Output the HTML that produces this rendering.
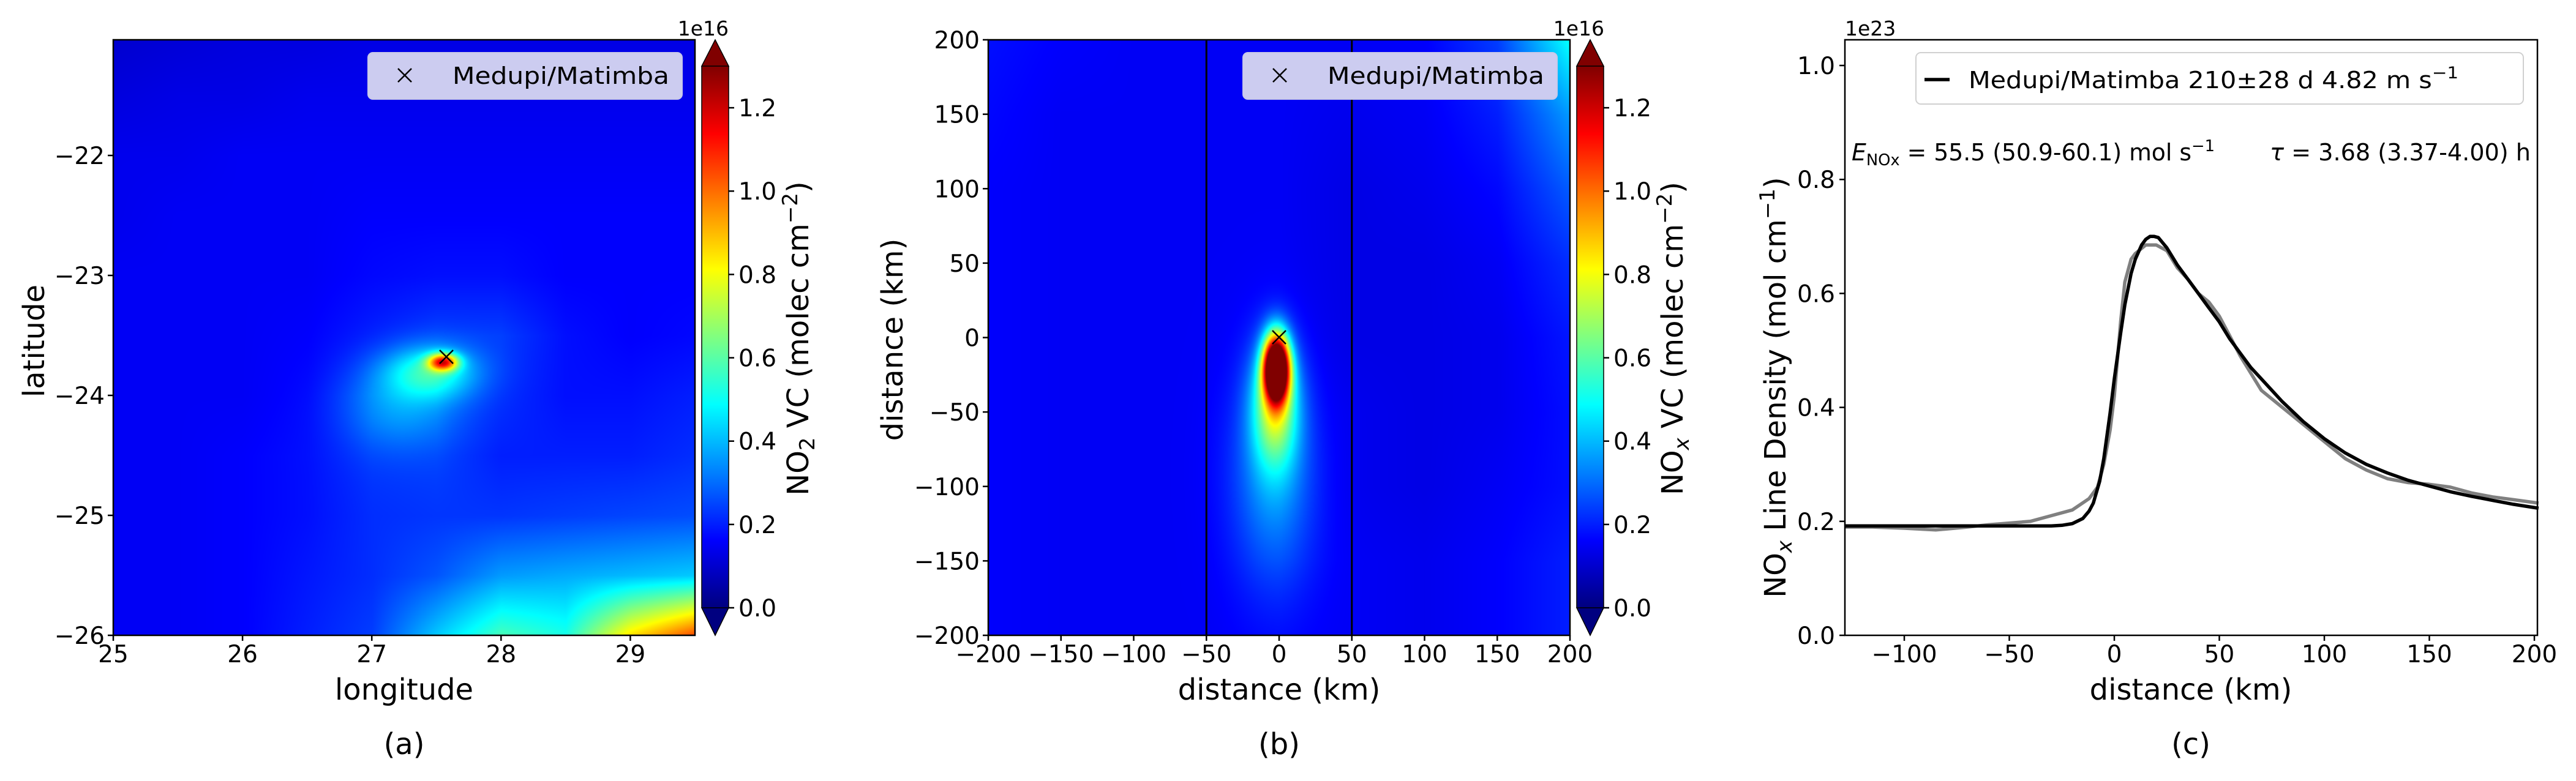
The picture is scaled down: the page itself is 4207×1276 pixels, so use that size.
<!DOCTYPE html>
<html><head><meta charset="utf-8">
<style>
html,body{margin:0;padding:0;background:#fff;}
#wrap{position:relative;width:4207px;height:1276px;overflow:hidden;font-family:"DejaVu Sans","Liberation Sans",sans-serif;}
canvas{position:absolute;}
svg{position:absolute;left:0;top:0;}
text{font-family:"DejaVu Sans","Liberation Sans",sans-serif;fill:#000;}
</style></head>
<body>
<div id="wrap">
<canvas id="ca" width="950" height="973" style="left:185px;top:65px"></canvas>
<canvas id="cb" width="950" height="973" style="left:1614px;top:65px"></canvas>
<svg id="s" width="4207" height="1276" viewBox="0 0 4207 1276">
<defs>
<linearGradient id="jetg" x1="0" y1="1" x2="0" y2="0"></linearGradient>
</defs>
<g id="g"></g>
</svg>
</div>
<script>
// ---------- Panel (a) data ----------
const aLon = [25,25.5,26,26.5,27,27.5,28,28.5,29,29.5];
const aLat = [-21,-21.5,-22,-22.5,-23,-23.5,-24,-24.5,-25,-25.5,-26];
const aGrid = [
[.10,.11,.12,.12,.13,.13,.13,.13,.13,.13],
[.12,.13,.13,.14,.14,.14,.14,.14,.14,.14],
[.14,.14,.15,.15,.15,.15,.15,.15,.15,.15],
[.14,.15,.15,.15,.16,.16,.16,.16,.16,.16],
[.15,.15,.15,.15,.17,.18,.18,.16,.16,.16],
[.15,.15,.15,.16,.20,.24,.24,.18,.16,.17],
[.15,.15,.15,.17,.24,.27,.22,.18,.18,.20],
[.15,.15,.16,.18,.23,.24,.20,.20,.20,.22],
[.15,.15,.16,.18,.22,.23,.23,.24,.25,.26],
[.15,.15,.16,.19,.22,.27,.36,.38,.40,.42],
[.15,.15,.16,.20,.24,.42,.58,.52,.85,1.05]];
const aSources = [[27.55,-23.72,0.72,0.08,0.05],[27.45,-23.8,0.28,0.25,0.15],[27.2,-24.1,0.12,0.3,0.25]];
const aXTicks = [25,26,27,28,29];
const aYTicks = [-22,-23,-24,-25,-26];
// ---------- Panel (b) data ----------
const bX = [-200,-150,-100,-50,0,50,100,150,200];
const bY = [200,150,100,50,0,-50,-100,-150,-200];
const bGrid = [
[.18,.16,.15,.15,.15,.15,.16,.24,.50],
[.17,.15,.15,.15,.15,.14,.15,.20,.36],
[.16,.15,.15,.15,.15,.13,.14,.17,.28],
[.16,.15,.15,.15,.15,.13,.13,.15,.22],
[.16,.15,.15,.15,.15,.13,.13,.14,.19],
[.16,.15,.15,.15,.15,.14,.13,.14,.18],
[.16,.15,.15,.15,.16,.14,.13,.15,.18],
[.16,.15,.15,.15,.17,.15,.14,.16,.20],
[.16,.15,.15,.15,.16,.15,.14,.16,.20]];
const bSources = [[-2,-20,1.6,6,15],[-3,-45,0.5,11,28],[-4,-90,0.2,20,50]];
const bTicks = [-200,-150,-100,-50,0,50,100,150,200];
const bVLines = [-50,50];
const cbTicks = [0.0,0.2,0.4,0.6,0.8,1.0,1.2];
// ---------- Panel (c) data ----------
const obsX = [-128,-115,-100,-85,-70,-60,-50,-40,-30,-20,-12,-8,-5,-2,0,3,5,8,10,15,20,25,30,35,40,45,50,55,60,65,70,80,90,100,110,120,130,140,150,160,170,180,190,202];
const obsY = [0.19,0.19,0.188,0.185,0.19,0.194,0.197,0.20,0.21,0.22,0.24,0.26,0.30,0.36,0.42,0.55,0.62,0.66,0.67,0.685,0.685,0.675,0.645,0.625,0.60,0.585,0.56,0.525,0.49,0.46,0.43,0.40,0.37,0.34,0.31,0.29,0.275,0.268,0.265,0.26,0.25,0.243,0.238,0.232];
const fitX = [-128,-30,-25,-20,-15,-12,-10,-7,-5,-2,0,3,5,8,10,13,15,17,19,21,25,30,35,40,45,50,55,60,65,70,80,90,100,110,120,130,140,150,160,170,180,190,202];
const fitY = [0.192,0.192,0.193,0.196,0.205,0.218,0.232,0.27,0.31,0.39,0.45,0.53,0.58,0.635,0.66,0.685,0.695,0.70,0.70,0.698,0.68,0.65,0.625,0.60,0.575,0.55,0.52,0.495,0.47,0.45,0.41,0.375,0.345,0.32,0.30,0.285,0.272,0.262,0.252,0.244,0.237,0.230,0.223];
const cXTicks = [-100,-50,0,50,100,150,200];
const cYTicks = [0.0,0.2,0.4,0.6,0.8,1.0];

const VMAX = 1.3;
function cl(v){return Math.max(0,Math.min(1,v));}
function jet(t){t=cl(t);return [cl(Math.min(4*t-1.5,-4*t+4.5)),cl(Math.min(4*t-0.5,-4*t+3.5)),cl(Math.min(4*t+0.5,-4*t+2.5))];}
function hex(c){return 'rgb('+c.map(v=>Math.round(v*255)).join(',')+')';}

const A={x0:185,x1:1135,y0:1038,y1:65};
const ax=lon=>A.x0+(lon-25)*211.1;
const ay=lat=>A.y0-(lat+26)*196;
const B={x0:1614,x1:2564,y0:1038,y1:65};
const bx=v=>2089+v*2.375;
const by=v=>551.5-v*2.4325;
const C={x0:3013,x1:4144,y0:1038,y1:65};
const cx=v=>3453+v*3.43;
const cy=v=>1038-v*931;
const cbY=v=>993-v/VMAX*885;

function bilin(grid,fx,fy){
  const r=grid.length-1,c=grid[0].length-1;
  fx=Math.max(0,Math.min(c,fx));fy=Math.max(0,Math.min(r,fy));
  const i=Math.min(c-1,Math.floor(fx)),j=Math.min(r-1,Math.floor(fy));
  const u=fx-i,w=fy-j;
  return grid[j][i]*(1-u)*(1-w)+grid[j][i+1]*u*(1-w)+grid[j+1][i]*(1-u)*w+grid[j+1][i+1]*u*w;
}
function paint(id,W,H,fn){
  const cv=document.getElementById(id),ctx=cv.getContext('2d');
  const im=ctx.createImageData(W,H);
  for(let y=0;y<H;y++)for(let x=0;x<W;x++){
    const c=jet(fn(x,y)/VMAX),k=(y*W+x)*4;
    im.data[k]=c[0]*255;im.data[k+1]=c[1]*255;im.data[k+2]=c[2]*255;im.data[k+3]=255;}
  ctx.putImageData(im,0,0);
}
paint('ca',950,973,(px,py)=>{
  const lon=25+px/211.1, lat=-26+(973-py)/196;
  let v=bilin(aGrid,(lon-aLon[0])/0.5,(aLat[0]-lat)/0.5);
  for(const s of aSources){const dx=(lon-s[0])/s[3],dy=(lat-s[1])/s[4];v+=s[2]*Math.exp(-0.5*(dx*dx+dy*dy));}
  return v;});
paint('cb',950,973,(px,py)=>{
  const X=(px+1614-2089)/2.375, Y=(551.5-(py+65))/2.4325;
  let v=bilin(bGrid,(X-bX[0])/50,(bY[0]-Y)/50);
  for(const s of bSources){const dx=(X-s[0])/s[3],dy=(Y-s[1])/s[4];v+=s[2]*Math.exp(-0.5*(dx*dx+dy*dy));}
  return v;});

const grad=document.getElementById('jetg');
for(let i=0;i<=32;i++){const st=document.createElementNS('http://www.w3.org/2000/svg','stop');st.setAttribute('offset',i/32);st.setAttribute('stop-color',hex(jet(i/32)));grad.appendChild(st);}

const NS='http://www.w3.org/2000/svg',G=document.getElementById('g');
function el(tag,attrs,parent){const e=document.createElementNS(NS,tag);for(const k in attrs)e.setAttribute(k,attrs[k]);(parent||G).appendChild(e);return e;}
function txt(x,y,s,size,anchor,extra){const t=el('text',Object.assign({x:x,y:y,'font-size':size,'text-anchor':anchor||'start'},extra||{}));t.textContent=s;return t;}
const fmtMinus=v=>String(v).replace('-','\u2212');

// ===== Panel a =====
el('rect',{x:A.x0,y:A.y1,width:A.x1-A.x0,height:A.y0-A.y1,fill:'none',stroke:'#000','stroke-width':2.5});
aXTicks.forEach(v=>{
  const l=el('line',{x1:ax(v),x2:ax(v),y1:A.y0,y2:A.y0+9,stroke:'#000','stroke-width':2.5});
  
  const t=txt(ax(v),1082,String(v),39,'middle');
  });
aYTicks.forEach(v=>{
  const l=el('line',{x1:A.x0-9,x2:A.x0,y1:ay(v),y2:ay(v),stroke:'#000','stroke-width':2.5});
  
  const t=txt(A.x0-14,ay(v)+14,fmtMinus(v),39,'end');
  });
// ===== Panel b =====
bVLines.forEach(v=>{
  const l=el('line',{x1:bx(v),x2:bx(v),y1:B.y1,y2:B.y0,stroke:'#000','stroke-width':3});
  });
el('rect',{x:B.x0,y:B.y1,width:B.x1-B.x0,height:B.y0-B.y1,fill:'none',stroke:'#000','stroke-width':2.5});
bTicks.forEach(v=>{
  const l=el('line',{x1:bx(v),x2:bx(v),y1:B.y0,y2:B.y0+9,stroke:'#000','stroke-width':2.5});
  
  const t=txt(bx(v),1082,fmtMinus(v),39,'middle');
  
  const l2=el('line',{x1:B.x0-9,x2:B.x0,y1:by(v),y2:by(v),stroke:'#000','stroke-width':2.5});
  
  const t2=txt(B.x0-14,by(v)+14,fmtMinus(v),39,'end');
  });
// ===== Colorbars =====
[[1146,'a'],[2575,'b']].forEach(([x0,p])=>{
  const w=44;
  const r=el('rect',{x:x0,y:cbY(VMAX),width:w,height:cbY(0)-cbY(VMAX),fill:'url(#jetg)'});
  
  const up=el('polygon',{points:`${x0},${cbY(VMAX)} ${x0+w/2},65 ${x0+w},${cbY(VMAX)}`,fill:hex(jet(1)),stroke:'#000','stroke-width':1.5});
  
  const dn=el('polygon',{points:`${x0},${cbY(0)} ${x0+w/2},1038 ${x0+w},${cbY(0)}`,fill:hex(jet(0)),stroke:'#000','stroke-width':1.5});
  
  el('path',{d:`M${x0},${cbY(0)}V${cbY(VMAX)}M${x0+w},${cbY(0)}V${cbY(VMAX)}`,stroke:'#000','stroke-width':1.5,fill:'none'});
  cbTicks.forEach(v=>{
    const l=el('line',{x1:x0+w,x2:x0+w+9,y1:cbY(v),y2:cbY(v),stroke:'#000','stroke-width':2.5});
    
    const t=txt(x0+w+16,cbY(v)+14,v.toFixed(1),39,'start');
    });
});
// ===== Panel c =====
function line(xs,ys,color,name){
  const p=xs.map((x,i)=>cx(x).toFixed(1)+','+cy(ys[i]).toFixed(1)).join(' ');
  const l=el('polyline',{points:p,fill:'none',stroke:color,'stroke-width':5.5,'stroke-linejoin':'round'});
  }
line(obsX,obsY,'#808080','observed-line-density');
line(fitX,fitY,'#000','fitted-emg-curve');
el('rect',{x:C.x0,y:C.y1,width:C.x1-C.x0,height:C.y0-C.y1,fill:'none',stroke:'#000','stroke-width':2.5});
cXTicks.forEach(v=>{
  const l=el('line',{x1:cx(v),x2:cx(v),y1:C.y0,y2:C.y0+9,stroke:'#000','stroke-width':2.5});
  
  const t=txt(cx(v),1082,fmtMinus(v),39,'middle');
  });
cYTicks.forEach(v=>{
  const l=el('line',{x1:C.x0-9,x2:C.x0,y1:cy(v),y2:cy(v),stroke:'#000','stroke-width':2.5});
  
  const t=txt(C.x0-16,cy(v)+14,v.toFixed(1),39,'end');
  });
</script>
<script>
(function(){
const NS='http://www.w3.org/2000/svg';
const G=document.getElementById('g');
const frag=`
<g>
 <rect x="601" y="86" width="513" height="76" rx="8" fill="#ccccf0" stroke="#c8c8e8" stroke-width="2"/>
 <path d="M650,112L672,134M672,112L650,134" stroke="#000" stroke-width="2.5"/>
 <text x="739" y="137" font-size="38" textLength="354" lengthAdjust="spacingAndGlyphs">Medupi/Matimba</text>
</g>
<g>
 <rect x="2030" y="86" width="513" height="76" rx="8" fill="#ccccf0" stroke="#c8c8e8" stroke-width="2"/>
 <path d="M2079,112L2101,134M2101,112L2079,134" stroke="#000" stroke-width="2.5"/>
 <text x="2168" y="137" font-size="38" textLength="354" lengthAdjust="spacingAndGlyphs">Medupi/Matimba</text>
</g>
<path d="M718,572L740,594M740,572L718,594" stroke="#000" stroke-width="2.5"/>
<path d="M2078,540L2100,562M2100,540L2078,562" stroke="#000" stroke-width="2.5"/>
<text x="660" y="1143" font-size="48" text-anchor="middle">longitude</text>
<text transform="translate(72,557) rotate(-90)" font-size="48" text-anchor="middle">latitude</text>
<text x="660" y="1232" font-size="48" text-anchor="middle">(a)</text>
<text x="1190" y="58" font-size="33" text-anchor="end">1e16</text>
<text transform="translate(1320,553) rotate(-90)" font-size="48" text-anchor="middle">NO<tspan font-size="34" dy="10">2</tspan><tspan dy="-10"> VC (molec cm</tspan><tspan font-size="34" dy="-18">−2</tspan><tspan dy="18">)</tspan></text>
<text x="2089" y="1143" font-size="48" text-anchor="middle">distance (km)</text>
<text transform="translate(1474,555) rotate(-90)" font-size="48" text-anchor="middle">distance (km)</text>
<text x="2089" y="1232" font-size="48" text-anchor="middle">(b)</text>
<text x="2620" y="58" font-size="33" text-anchor="end">1e16</text>
<text transform="translate(2748,553) rotate(-90)" font-size="48" text-anchor="middle">NO<tspan font-size="34" dy="10" font-style="italic">x</tspan><tspan dy="-10"> VC (molec cm</tspan><tspan font-size="34" dy="-18">−2</tspan><tspan dy="18">)</tspan></text>
<text x="3013" y="58" font-size="33">1e23</text>
<g>
 <rect x="3129" y="86" width="992" height="84" rx="8" fill="#fff" stroke="#d0d0d0" stroke-width="2"/>
 <line x1="3143" y1="130" x2="3184" y2="130" stroke="#000" stroke-width="5.5"/>
 <text x="3215" y="144" font-size="38" textLength="800" lengthAdjust="spacingAndGlyphs">Medupi/Matimba 210±28 d 4.82 m s<tspan font-size="27" dy="-16">−1</tspan></text>
</g>
<text x="3024" y="262" font-size="38" textLength="593" lengthAdjust="spacingAndGlyphs"><tspan font-style="italic">E</tspan><tspan font-size="26" dy="8">NOx</tspan><tspan dy="-8"> = 55.5 (50.9-60.1) mol s</tspan><tspan font-size="26" dy="-15">−1</tspan></text>
<text x="3707" y="262" font-size="38" textLength="426" lengthAdjust="spacingAndGlyphs"><tspan font-style="italic">τ</tspan> = 3.68 (3.37-4.00) h</text>
<text x="3578" y="1143" font-size="48" text-anchor="middle">distance (km)</text>
<text transform="translate(2916,633) rotate(-90)" font-size="48" text-anchor="middle">NO<tspan font-size="34" dy="10" font-style="italic">x</tspan><tspan dy="-10"> Line Density (mol cm</tspan><tspan font-size="34" dy="-18">−1</tspan><tspan dy="18">)</tspan></text>
<text x="3578" y="1232" font-size="48" text-anchor="middle">(c)</text>`;
const tmp=document.createElementNS(NS,'svg');
tmp.innerHTML=frag;
while(tmp.firstChild)G.appendChild(tmp.firstChild);
})();
</script>
</body></html>
